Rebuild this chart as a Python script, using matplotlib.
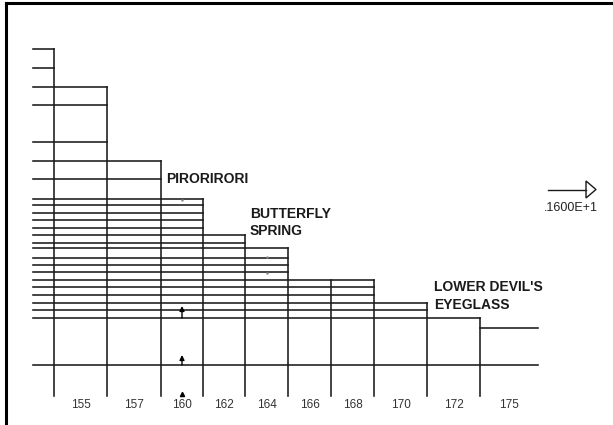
import matplotlib
matplotlib.use("Agg")
import matplotlib.pyplot as plt
from matplotlib.patches import Polygon

plt.rcParams['font.family'] = ['Liberation Sans', 'DejaVu Sans']

# column edges along the bottom (left start, then each boundary, then right end)
x_start = 33
col_edges = [54, 107, 161, 203, 245, 288, 331, 374, 427, 480, 538]
# top of each step (col 0 = unlabeled strip left of first boundary)
col_tops = [49.3, 86.7, 161, 199, 235, 248.3, 280, 280, 302.5, 318, 328]
col_labels = ["", "155", "157", "160", "162", "164", "166", "168", "170", "172", "175"]

# horizontal levels that run from the left start to the step they reach
levels = [49.3, 67.7, 86.7, 105, 141.7, 160.7, 179, 199, 205, 212.7, 220.3,
          227.7, 235, 242.7, 248.3, 258, 265, 272.3, 280, 287.3, 295, 302.5,
          309.5, 318, 365]
base_y = 396

# annotations
names = ["PIRORIRORI", "BUTTERFLY\nSPRING", "LOWER DEVIL'S\nEYEGLASS"]
name_pos = [(166, 179), (250, 222.5), (434, 296)]
marker_arrows = [(318, 306), (365, 355)]
arrow_x = 182
scale_text = ".1600E+1"

fig = plt.figure(figsize=(6.13, 4.25), dpi=100)
ax = fig.add_axes([0, 0, 1, 1])
ax.set_xlim(0, 613)
ax.set_ylim(425, 0)
ax.axis('off')

lc = '#1a1a1a'
lw = 1.15

# frame (left and top only)
ax.plot([6, 6], [425, 3], color='black', lw=2.2, solid_capstyle='projecting')
ax.plot([6, 613], [3, 3], color='black', lw=2.2, solid_capstyle='projecting')

# horizontal lines: each reaches the right edge of the last column whose top is above it
for y in levels:
    right = x_start
    for i, top in enumerate(col_tops[:-1]):
        if top <= y + 0.5:
            right = col_edges[i]
    if y >= col_tops[-1]:
        right = col_edges[-1]
    ax.plot([x_start, right], [y, y], color=lc, lw=lw)

# top of the last column
ax.plot([col_edges[-2], col_edges[-1]], [col_tops[-1], col_tops[-1]], color=lc, lw=lw)

# verticals at each boundary from the top of the column on its left
for i, xe in enumerate(col_edges[:-1]):
    ax.plot([xe, xe], [col_tops[i], base_y], color=lc, lw=lw)

# column labels
for i in range(1, len(col_edges)):
    xc = (col_edges[i - 1] + col_edges[i]) / 2
    ax.text(xc, 405, col_labels[i], ha='center', va='center',
            fontsize=8.5, color='#333333')

# place names
for txt, (tx, ty) in zip(names, name_pos):
    ax.text(tx, ty, txt, ha='left', va='center', fontsize=10,
            fontweight='bold', color='#1a1a1a', linespacing=1.3)

# small arrows in the 160 column
for y0, y1 in marker_arrows:
    ax.annotate('', xy=(arrow_x, y1), xytext=(arrow_x, y0),
                arrowprops=dict(arrowstyle='-|>', color='black', lw=1.0,
                                mutation_scale=7, shrinkA=0, shrinkB=0))
ax.plot([arrow_x], [394], marker='^', markersize=3, color='black')

# stray dots
ax.plot([182, 267, 267], [200, 257, 273], ls='none', marker='.', markersize=1.5, color='#888888')

# scale arrow on the right
ax.plot([548, 586], [190, 190], color=lc, lw=1.0)
ax.add_patch(Polygon([[586, 181], [586, 198], [596, 189.5]], closed=True,
                     fill=False, edgecolor=lc, lw=1.0))
ax.text(571, 208, scale_text, ha='center', va='center', fontsize=9, color='#222222')

fig.savefig('out.png', dpi=100)
